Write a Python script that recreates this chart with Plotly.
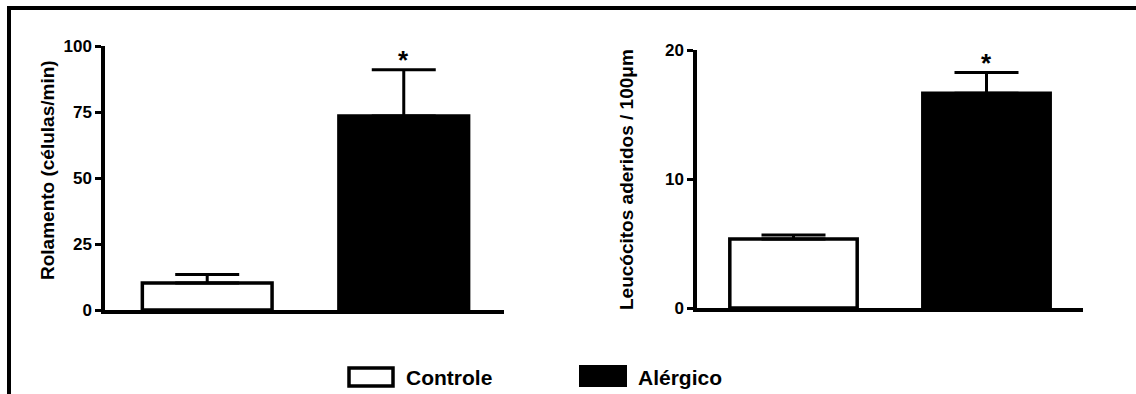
import plotly.graph_objects as go

# ---- data ----
groups = ["Controle", "Alérgico"]
rolamento = [10.2, 73.5]
rolamento_err = [3.2, 17.5]
aderidos = [5.35, 16.65]
aderidos_err = [0.3, 1.6]
left_ticks = [0, 25, 50, 75, 100]
right_ticks = [0, 10, 20]
bar_fill = ["white", "black"]
left_title = "Rolamento (células/min)"
right_title = "Leucócitos aderidos / 100μm"

W, H = 1136, 394
FONT = "Liberation Sans, Arial, sans-serif"

def px(x):
    return x / W

def py(y):
    return 1 - y / H

fig = go.Figure()

fig.add_trace(go.Bar(
    x=[0, 1], y=rolamento, width=0.66,
    marker=dict(color=bar_fill, line=dict(color="black", width=3.5)),
    error_y=dict(type="data", symmetric=False, array=rolamento_err,
                 arrayminus=[0, 0], color="black", thickness=3, width=32),
    xaxis="x", yaxis="y", showlegend=False, hoverinfo="skip"))

fig.add_trace(go.Bar(
    x=[0, 1], y=aderidos, width=0.66,
    marker=dict(color=bar_fill, line=dict(color="black", width=3.5)),
    error_y=dict(type="data", symmetric=False, array=aderidos_err,
                 arrayminus=[0, 0], color="black", thickness=3, width=32),
    xaxis="x2", yaxis="y2", showlegend=False, hoverinfo="skip"))

axis_common = dict(showgrid=False, zeroline=False, showline=True,
                   linecolor="black", linewidth=3.5)

fig.update_layout(
    width=W, height=H, autosize=False,
    margin=dict(l=0, r=0, t=0, b=0, pad=0, autoexpand=False),
    paper_bgcolor="white", plot_bgcolor="white",
    font=dict(family=FONT, color="black"),
    xaxis=dict(domain=[px(105), px(504)], range=[-0.52, 1.51],
               showticklabels=False, ticks="", anchor="y", **axis_common),
    yaxis=dict(domain=[py(310), py(46)], range=[0, 100], anchor="x",
               tickmode="array", tickvals=left_ticks, ticks="outside",
               ticklen=6, tickwidth=3, tickcolor="black",
               tickfont=dict(family=FONT, size=17, color="black", weight="bold"),
               **axis_common),
    xaxis2=dict(domain=[px(697), px(1083)], range=[-0.5, 1.5],
                showticklabels=False, ticks="", anchor="y2", **axis_common),
    yaxis2=dict(domain=[py(308), py(50)], range=[0, 20], anchor="x2",
                tickmode="array", tickvals=right_ticks, ticks="outside",
                ticklen=6, tickwidth=3, tickcolor="black",
                tickfont=dict(family=FONT, size=17, color="black", weight="bold"),
                **axis_common),
)

# significance stars
for xr, yr, vals, errs in [("x", "y", rolamento, rolamento_err),
                           ("x2", "y2", aderidos, aderidos_err)]:
    fig.add_annotation(x=1, y=vals[1] + errs[1], xref=xr, yref=yr, text="<b>*</b>",
                       showarrow=False, yanchor="bottom", yshift=-7,
                       font=dict(family=FONT, size=26, color="black"))

# axis titles
fig.add_annotation(x=px(47), y=py(170), xref="paper", yref="paper",
                   text="<b>" + left_title + "</b>", textangle=-90, showarrow=False,
                   xanchor="center", yanchor="middle",
                   font=dict(family=FONT, size=19, color="black"))
fig.add_annotation(x=px(626), y=py(180), xref="paper", yref="paper",
                   text="<b>" + right_title + "</b>", textangle=-90, showarrow=False,
                   xanchor="center", yanchor="middle",
                   font=dict(family=FONT, size=19, color="black"))

# legend (keys drawn as paper shapes)
fig.add_shape(type="rect", xref="paper", yref="paper",
              x0=px(349), x1=px(393), y0=py(386), y1=py(368),
              fillcolor=bar_fill[0], line=dict(color="black", width=3.5))
fig.add_shape(type="rect", xref="paper", yref="paper",
              x0=px(579), x1=px(627), y0=py(387), y1=py(365),
              fillcolor=bar_fill[1], line=dict(color="black", width=0))
fig.add_annotation(x=px(404), y=py(377), xref="paper", yref="paper",
                   text="<b>" + groups[0] + "</b>", showarrow=False,
                   xanchor="left", yanchor="middle",
                   font=dict(family=FONT, size=21, color="black"))
fig.add_annotation(x=px(636), y=py(377), xref="paper", yref="paper",
                   text="<b>" + groups[1] + "</b>", showarrow=False,
                   xanchor="left", yanchor="middle",
                   font=dict(family=FONT, size=21, color="black"))

# outer frame (top and left edges)
fig.add_shape(type="path", xref="paper", yref="paper",
              path=f"M {px(9)},{py(394)} L {px(9)},{py(8)} L {px(1136)},{py(8)}",
              line=dict(color="black", width=4))

fig.write_html("out.html",
               config={"displayModeBar": False, "responsive": False},
               post_script="document.documentElement.style.margin='0';"
                           "document.body.style.margin='0';"
                           "document.body.style.overflow='hidden';"
                           "var gd=document.getElementById('{plot_id}');"
                           "gd.style.position='fixed';gd.style.top='0';gd.style.left='0';")
